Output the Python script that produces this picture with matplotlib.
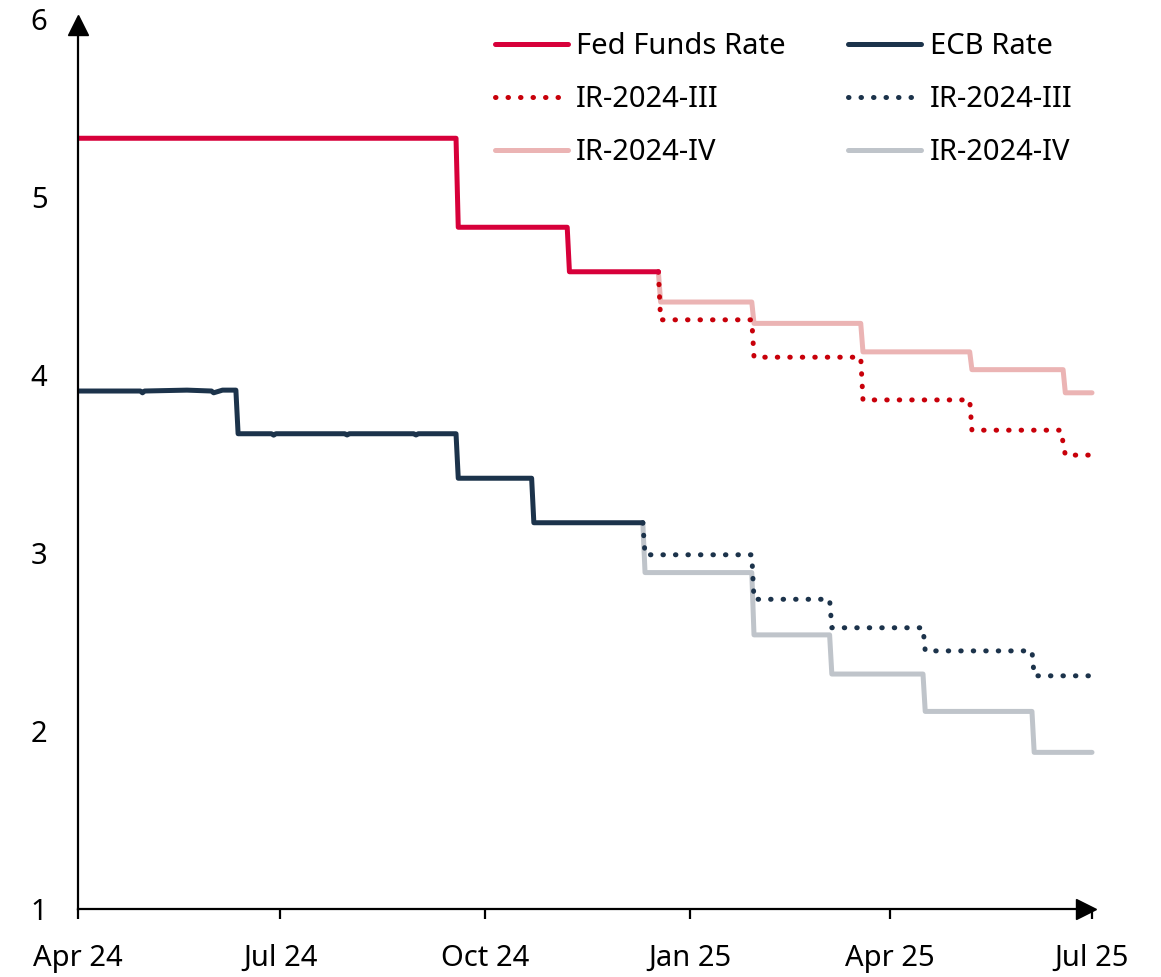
import numpy as np
import pandas as pd
import matplotlib
matplotlib.use('Agg')
import matplotlib.pyplot as plt
import matplotlib.transforms as mtransforms

plt.rcParams['font.family'] = ['Noto Sans', 'DejaVu Sans']

# Fed Funds rate (step changes)
fed_dates = ['2024-04-01', '2024-09-18', '2024-09-19', '2024-11-07', '2024-11-08', '2024-12-18']
fed_vals = [5.33, 5.33, 4.83, 4.83, 4.58, 4.58]

# Fed projections
fed_ir3_dates = ['2024-12-18', '2024-12-19', '2025-01-29', '2025-01-30', '2025-03-19', '2025-03-20',
                 '2025-05-07', '2025-05-08', '2025-06-17', '2025-06-19', '2025-07-01']
fed_ir3_vals = [4.58, 4.31, 4.31, 4.10, 4.10, 3.86, 3.86, 3.69, 3.69, 3.55, 3.55]
fed_ir4_dates = ['2024-12-18', '2024-12-19', '2025-01-29', '2025-01-30', '2025-03-19', '2025-03-20',
                 '2025-05-07', '2025-05-08', '2025-06-18', '2025-06-19', '2025-07-01']
fed_ir4_vals = [4.58, 4.41, 4.41, 4.29, 4.29, 4.13, 4.13, 4.03, 4.03, 3.90, 3.90]

# ECB rate (with small month-end wiggles)
ecb_dates = ['2024-04-01', '2024-04-29', '2024-04-30', '2024-05-01', '2024-05-20', '2024-05-31',
             '2024-06-01', '2024-06-05', '2024-06-11', '2024-06-12', '2024-06-27', '2024-06-28',
             '2024-06-29', '2024-07-30', '2024-07-31', '2024-08-01', '2024-08-30', '2024-08-31',
             '2024-09-01', '2024-09-18', '2024-09-19', '2024-10-22',
             '2024-10-23', '2024-12-11']
ecb_vals = [3.91, 3.91, 3.90, 3.91, 3.915, 3.91,
            3.90, 3.915, 3.915, 3.67, 3.67, 3.662,
            3.67, 3.67, 3.663, 3.67, 3.67, 3.663,
            3.67, 3.67, 3.42, 3.42,
            3.17, 3.17]

# ECB projections
ecb_ir3_dates = ['2024-12-11', '2024-12-12', '2025-01-29', '2025-01-30', '2025-03-05', '2025-03-06',
                 '2025-04-16', '2025-04-17', '2025-06-04', '2025-06-05', '2025-07-01']
ecb_ir3_vals = [3.17, 2.99, 2.99, 2.74, 2.74, 2.58, 2.58, 2.45, 2.45, 2.31, 2.31]
ecb_ir4_dates = ['2024-12-11', '2024-12-12', '2025-01-29', '2025-01-30', '2025-03-05', '2025-03-06',
                 '2025-04-16', '2025-04-17', '2025-06-04', '2025-06-05', '2025-07-01']
ecb_ir4_vals = [3.17, 2.89, 2.89, 2.54, 2.54, 2.32, 2.32, 2.11, 2.11, 1.88, 1.88]

tick_dates = ['2024-04-01', '2024-07-01', '2024-10-01', '2025-01-01', '2025-04-01', '2025-07-01']
tick_labels = ['Apr 24', 'Jul 24', 'Oct 24', 'Jan 25', 'Apr 25', 'Jul 25']

c_fed = '#d7003a'
c_fed3 = '#c8000a'
c_fed4 = '#ebb4b4'
c_ecb = '#1c334b'
c_ecb4 = '#bfc4ca'

fig = plt.figure(figsize=(11.61, 9.77), dpi=100)
ax = fig.add_axes([78/1161, 1 - 909/977, (1092-78)/1161, (909-19)/977])

lw = 3.6
dots = (0, (0.1, 2.4))

ax.plot(pd.to_datetime(fed_ir4_dates), fed_ir4_vals, color=c_fed4, lw=lw,
        solid_capstyle='round', solid_joinstyle='round', label='IR-2024-IV', clip_on=False)
ax.plot(pd.to_datetime(ecb_ir4_dates), ecb_ir4_vals, color=c_ecb4, lw=lw,
        solid_capstyle='round', solid_joinstyle='round', label='IR-2024-IV', clip_on=False)
ax.plot(pd.to_datetime(fed_ir3_dates), fed_ir3_vals, color=c_fed3, lw=lw, linestyle=dots,
        dash_capstyle='round', label='IR-2024-III', clip_on=False)
ax.plot(pd.to_datetime(ecb_ir3_dates), ecb_ir3_vals, color=c_ecb, lw=lw, linestyle=dots,
        dash_capstyle='round', label='IR-2024-III', clip_on=False)
ax.plot(pd.to_datetime(fed_dates), fed_vals, color=c_fed, lw=lw,
        solid_capstyle='round', solid_joinstyle='round', label='Fed Funds Rate')
ax.plot(pd.to_datetime(ecb_dates), ecb_vals, color=c_ecb, lw=lw,
        solid_capstyle='round', solid_joinstyle='round', label='ECB Rate')

ax.set_xlim(pd.Timestamp('2024-04-01'), pd.Timestamp('2025-07-01'))
ax.set_ylim(1, 6)
ax.set_yticks([1, 2, 3, 4, 5, 6])
ax.set_xticks(pd.to_datetime(tick_dates))
ax.set_xticklabels(tick_labels)

for s in ['top', 'right']:
    ax.spines[s].set_visible(False)
for s in ['left', 'bottom']:
    ax.spines[s].set_linewidth(1.6)

ax.tick_params(axis='y', length=0, pad=22, labelsize=21)
ax.tick_params(axis='x', length=7, width=1.6, direction='out', pad=18, labelsize=21)

# axis arrows, tips at the axis ends
right_tr = mtransforms.offset_copy(ax.transAxes, fig=fig, x=-6, y=0, units='dots')
top_tr = mtransforms.offset_copy(ax.transAxes, fig=fig, x=0, y=-6, units='dots')
ax.plot(1, 0, '>k', ms=14, transform=right_tr, clip_on=False)
ax.plot(0, 1, '^k', ms=14, transform=top_tr, clip_on=False)

handles, labels = ax.get_legend_handles_labels()
order = [4, 2, 0, 5, 3, 1]
ax.legend([handles[i] for i in order], [labels[i] for i in order], ncol=2, frameon=False,
          fontsize=21, loc='upper left', bbox_to_anchor=(495/1161, 1 - 32/977),
          bbox_transform=fig.transFigure, borderpad=0, borderaxespad=0,
          handlelength=2.5, handletextpad=0.28, columnspacing=2.15, labelspacing=0.83)

fig.savefig('out.png', dpi=100)
